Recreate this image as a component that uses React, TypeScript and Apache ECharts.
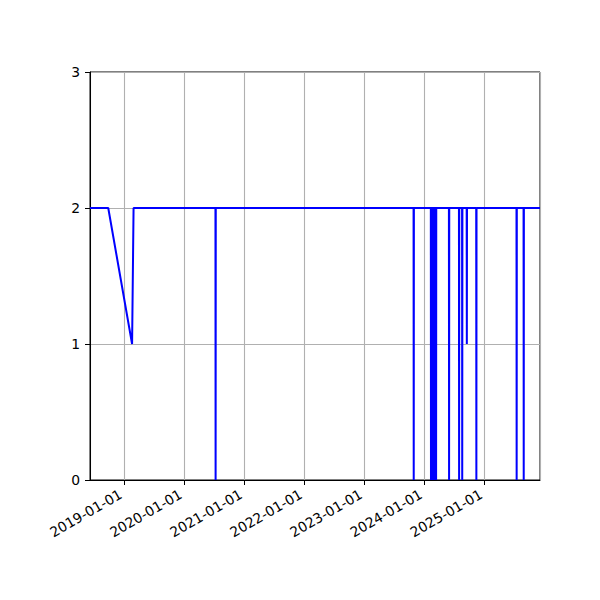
import React, { useEffect, useRef } from "react";
import * as echarts from "echarts";

const dates: string[] = [
  "2018-06-07", "2018-09-26", "2019-02-18", "2019-02-27",
  "2020-07-09", "2020-07-10", "2020-07-11",
  "2023-10-27", "2023-10-28", "2023-10-29",
  "2024-02-09", "2024-02-10", "2024-02-11",
  "2024-02-19", "2024-02-20", "2024-02-21",
  "2024-02-29", "2024-03-01", "2024-03-02",
  "2024-03-11", "2024-03-12", "2024-03-13",
  "2024-05-29", "2024-05-30", "2024-05-31",
  "2024-07-29", "2024-07-30", "2024-07-31",
  "2024-08-17", "2024-08-18", "2024-08-19",
  "2024-09-14", "2024-09-15", "2024-09-16",
  "2024-11-11", "2024-11-12", "2024-11-13",
  "2025-07-14", "2025-07-15", "2025-07-16",
  "2025-08-26", "2025-08-27", "2025-08-28",
  "2025-12-04",
];
const values: number[] = [
  2, 2, 1, 2,
  2, 0, 2,
  2, 0, 2,
  2, 0, 2,
  2, 0, 2,
  2, 0, 2,
  2, 0, 2,
  2, 0, 2,
  2, 0, 2,
  2, 0, 2,
  2, 1, 2,
  2, 0, 2,
  2, 0, 2,
  2, 0, 2,
  2,
];
const xMin = "2018-06-07";
const xMax = "2025-12-04";
const yTicks = [0, 1, 2, 3];

export default function App() {
  const ref = useRef<HTMLDivElement>(null);
  useEffect(() => {
    document.body.style.margin = "0";
    const chart = echarts.init(ref.current!, null, { renderer: "svg" });
    const font = "DejaVu Sans";
    chart.setOption({
      animation: false,
      backgroundColor: "#ffffff",
      grid: {
        left: 90, right: 60, top: 72, bottom: 120,
        show: true, borderColor: "#000", borderWidth: 1, backgroundColor: "transparent",
      },
      xAxis: {
        type: "time",
        min: xMin,
        max: xMax,
        minInterval: 365 * 86400000,
        maxInterval: 366 * 86400000,
        axisLine: { show: true, lineStyle: { color: "#000", width: 1 } },
        axisTick: { show: true, length: 5, lineStyle: { color: "#000" } },
        axisLabel: {
          rotate: 30,
          margin: 11,
          padding: [0, 4, 0, 0],
          fontFamily: font,
          fontSize: 13.9,
          color: "#000",
          formatter: "{yyyy}-{MM}-{dd}",
          showMinLabel: false,
          showMaxLabel: false,
        },
        splitLine: { show: true, lineStyle: { color: "#b0b0b0", width: 1.1 } },
      },
      yAxis: {
        type: "value",
        min: yTicks[0],
        max: yTicks[yTicks.length - 1],
        interval: 1,
        axisLine: { show: true, lineStyle: { color: "#000", width: 1 } },
        axisTick: { show: true, length: 5, lineStyle: { color: "#000" } },
        axisLabel: { margin: 10, fontFamily: font, fontSize: 13.9, color: "#000" },
        splitLine: { show: true, lineStyle: { color: "#b0b0b0", width: 1.1 } },
      },
      series: [
        {
          type: "line",
          data: dates.map((d, i) => [d, values[i]]),
          showSymbol: false,
          lineStyle: { color: "#0000ff", width: 2 },
          itemStyle: { color: "#0000ff" },
        },
      ],
    });
    return () => chart.dispose();
  }, []);
  return <div ref={ref} style={{ width: 600, height: 600 }} />;
}
